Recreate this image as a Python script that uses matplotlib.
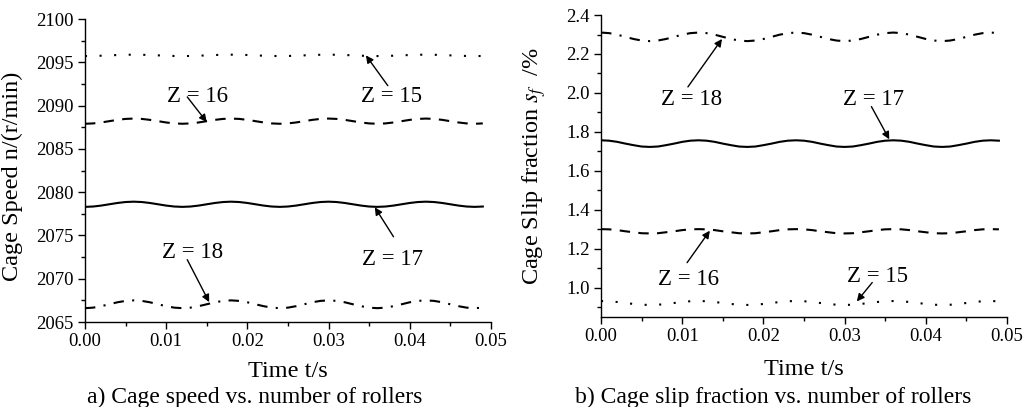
import numpy as np
import matplotlib
matplotlib.use('Agg')
import matplotlib.pyplot as plt
from matplotlib.ticker import MultipleLocator, FormatStrFormatter

plt.rcParams['font.family'] = ['Liberation Serif', 'DejaVu Serif']
plt.rcParams['mathtext.fontset'] = 'stix'

time_s = np.linspace(0, 0.049, 50)

speed_z15 = [2095.72, 2095.73, 2095.76, 2095.80, 2095.84, 2095.87, 2095.88, 2095.87, 2095.84, 2095.80, 2095.76, 2095.73,
             2095.72, 2095.73, 2095.76, 2095.80, 2095.84, 2095.87, 2095.88, 2095.87, 2095.84, 2095.80, 2095.76, 2095.73,
             2095.72, 2095.73, 2095.76, 2095.80, 2095.84, 2095.87, 2095.88, 2095.87, 2095.84, 2095.80, 2095.76, 2095.73,
             2095.72, 2095.73, 2095.76, 2095.80, 2095.84, 2095.87, 2095.88, 2095.87, 2095.84, 2095.80, 2095.76, 2095.73,
             2095.72, 2095.73]
speed_z16 = [2087.90, 2087.94, 2088.05, 2088.20, 2088.35, 2088.46, 2088.50, 2088.46, 2088.35, 2088.20, 2088.05, 2087.94,
             2087.90, 2087.94, 2088.05, 2088.20, 2088.35, 2088.46, 2088.50, 2088.46, 2088.35, 2088.20, 2088.05, 2087.94,
             2087.90, 2087.94, 2088.05, 2088.20, 2088.35, 2088.46, 2088.50, 2088.46, 2088.35, 2088.20, 2088.05, 2087.94,
             2087.90, 2087.94, 2088.05, 2088.20, 2088.35, 2088.46, 2088.50, 2088.46, 2088.35, 2088.20, 2088.05, 2087.94,
             2087.90, 2087.94]
speed_z17 = [2078.30, 2078.34, 2078.45, 2078.60, 2078.75, 2078.86, 2078.90, 2078.86, 2078.75, 2078.60, 2078.45, 2078.34,
             2078.30, 2078.34, 2078.45, 2078.60, 2078.75, 2078.86, 2078.90, 2078.86, 2078.75, 2078.60, 2078.45, 2078.34,
             2078.30, 2078.34, 2078.45, 2078.60, 2078.75, 2078.86, 2078.90, 2078.86, 2078.75, 2078.60, 2078.45, 2078.34,
             2078.30, 2078.34, 2078.45, 2078.60, 2078.75, 2078.86, 2078.90, 2078.86, 2078.75, 2078.60, 2078.45, 2078.34,
             2078.30, 2078.34]
speed_z18 = [2066.60, 2066.66, 2066.83, 2067.05, 2067.28, 2067.44, 2067.50, 2067.44, 2067.28, 2067.05, 2066.83, 2066.66,
             2066.60, 2066.66, 2066.83, 2067.05, 2067.28, 2067.44, 2067.50, 2067.44, 2067.28, 2067.05, 2066.83, 2066.66,
             2066.60, 2066.66, 2066.83, 2067.05, 2067.28, 2067.44, 2067.50, 2067.44, 2067.28, 2067.05, 2066.83, 2066.66,
             2066.60, 2066.66, 2066.83, 2067.05, 2067.28, 2067.44, 2067.50, 2067.44, 2067.28, 2067.05, 2066.83, 2066.66,
             2066.60, 2066.66]

slip_z15 = [0.932, 0.931, 0.927, 0.922, 0.917, 0.913, 0.912, 0.913, 0.917, 0.922, 0.927, 0.931,
            0.932, 0.931, 0.927, 0.922, 0.917, 0.913, 0.912, 0.913, 0.917, 0.922, 0.927, 0.931,
            0.932, 0.931, 0.927, 0.922, 0.917, 0.913, 0.912, 0.913, 0.917, 0.922, 0.927, 0.931,
            0.932, 0.931, 0.927, 0.922, 0.917, 0.913, 0.912, 0.913, 0.917, 0.922, 0.927, 0.931,
            0.932, 0.931]
slip_z16 = [1.301, 1.300, 1.296, 1.290, 1.285, 1.280, 1.279, 1.280, 1.285, 1.290, 1.296, 1.300,
            1.301, 1.300, 1.296, 1.290, 1.285, 1.280, 1.279, 1.280, 1.285, 1.290, 1.296, 1.300,
            1.301, 1.300, 1.296, 1.290, 1.285, 1.280, 1.279, 1.280, 1.285, 1.290, 1.296, 1.300,
            1.301, 1.300, 1.296, 1.290, 1.285, 1.280, 1.279, 1.280, 1.285, 1.290, 1.296, 1.300,
            1.301, 1.300]
slip_z17 = [1.757, 1.755, 1.749, 1.740, 1.732, 1.725, 1.723, 1.725, 1.732, 1.740, 1.749, 1.755,
            1.757, 1.755, 1.749, 1.740, 1.732, 1.725, 1.723, 1.725, 1.732, 1.740, 1.749, 1.755,
            1.757, 1.755, 1.749, 1.740, 1.732, 1.725, 1.723, 1.725, 1.732, 1.740, 1.749, 1.755,
            1.757, 1.755, 1.749, 1.740, 1.732, 1.725, 1.723, 1.725, 1.732, 1.740, 1.749, 1.755,
            1.757, 1.755]
slip_z18 = [2.310, 2.307, 2.299, 2.288, 2.277, 2.269, 2.266, 2.269, 2.277, 2.288, 2.299, 2.307,
            2.310, 2.307, 2.299, 2.288, 2.277, 2.269, 2.266, 2.269, 2.277, 2.288, 2.299, 2.307,
            2.310, 2.307, 2.299, 2.288, 2.277, 2.269, 2.266, 2.269, 2.277, 2.288, 2.299, 2.307,
            2.310, 2.307, 2.299, 2.288, 2.277, 2.269, 2.266, 2.269, 2.277, 2.288, 2.299, 2.307,
            2.310, 2.307]

labels = ['Z = 15', 'Z = 16', 'Z = 17', 'Z = 18']

#%% styles
dash_styles = [(0, (1, 6)), (0, (5, 4)), '-', (0, (5, 4, 1, 4))]
lw = 1.5
tick_fs = 13.5
label_fs = 17.5
note_fs = 16.5
cap_fs = 17

fig = plt.figure(figsize=(10.26, 4.07), dpi=100)
ax1 = fig.add_axes([0.0828, 0.2088, 0.3957, 0.7445])
ax2 = fig.add_axes([0.5858, 0.2211, 0.3957, 0.742])


def style_axes(ax, pad):
    for s in ['top', 'right']:
        ax.spines[s].set_visible(False)
    for s in ['left', 'bottom']:
        ax.spines[s].set_linewidth(1.0)
    ax.tick_params(which='major', direction='out', length=5, width=1.0,
                   labelsize=tick_fs, pad=3)
    ax.tick_params(which='minor', direction='out', length=3, width=1.0)
    ax.xaxis.set_major_locator(MultipleLocator(0.01))
    ax.xaxis.set_minor_locator(MultipleLocator(0.005))
    ax.xaxis.set_major_formatter(FormatStrFormatter('%.2f'))
    ax.set_xlim(0, 0.05)
    ax.set_xlabel('Time t/s', fontsize=label_fs, labelpad=pad)


def arrow(ax, head, tail):
    ax.annotate('', xy=head, xytext=tail,
                arrowprops=dict(arrowstyle='-|>', color='black', lw=1.0,
                                mutation_scale=11, shrinkA=0, shrinkB=0))


# a) cage speed
for ys, ls in zip([speed_z15, speed_z16, speed_z17, speed_z18], dash_styles):
    ax1.plot(time_s, ys, color='black', lw=lw, linestyle=ls)
style_axes(ax1, 8)
ax1.set_ylim(2065, 2100)
ax1.yaxis.set_major_locator(MultipleLocator(5))
ax1.yaxis.set_minor_locator(MultipleLocator(2.5))
ax1.set_ylabel('Cage Speed n/(r/min)', fontsize=label_fs)
ax1.yaxis.set_label_coords(-0.153, 0.48)

ax1.text(0.0377, 2091.1, labels[0], fontsize=note_fs, ha='center', va='center')
arrow(ax1, (0.0346, 2095.8), (0.0373, 2092.3))
ax1.text(0.0138, 2091.1, labels[1], fontsize=note_fs, ha='center', va='center')
arrow(ax1, (0.0150, 2088.1), (0.0126, 2091.0))
ax1.text(0.0379, 2072.2, labels[2], fontsize=note_fs, ha='center', va='center')
arrow(ax1, (0.0357, 2078.25), (0.0380, 2074.85))
ax1.text(0.0133, 2073.0, labels[3], fontsize=note_fs, ha='center', va='center')
arrow(ax1, (0.0153, 2067.3), (0.0126, 2072.2))

# b) cage slip fraction
for ys, ls in zip([slip_z15, slip_z16, slip_z17, slip_z18], dash_styles):
    ax2.plot(time_s, ys, color='black', lw=lw, linestyle=ls)
style_axes(ax2, 10)
ax2.set_ylim(0.85, 2.4)
ax2.yaxis.set_major_locator(MultipleLocator(0.2))
ax2.yaxis.set_minor_locator(MultipleLocator(0.1))
ax2.yaxis.set_major_formatter(FormatStrFormatter('%.1f'))
ax2.set_ylabel(r'Cage Slip fraction $s_f$  /%', fontsize=label_fs)
ax2.yaxis.set_label_coords(-0.130, 0.5)

ax2.text(0.0112, 1.965, labels[3], fontsize=note_fs, ha='center', va='center')
arrow(ax2, (0.0149, 2.277), (0.0107, 2.031))
ax2.text(0.0335, 1.965, labels[2], fontsize=note_fs, ha='center', va='center')
arrow(ax2, (0.0355, 1.762), (0.0333, 1.930))
ax2.text(0.0108, 1.042, labels[1], fontsize=note_fs, ha='center', va='center')
arrow(ax2, (0.0134, 1.293), (0.0106, 1.129))
ax2.text(0.0340, 1.058, labels[0], fontsize=note_fs, ha='center', va='center')
arrow(ax2, (0.0315, 0.930), (0.0334, 1.027))

# captions
fig.text(255 / 1026, 1 - 397 / 407, 'a) Cage speed vs. number of rollers',
         fontsize=cap_fs, ha='center', va='center')
fig.text(773 / 1026, 1 - 397 / 407, 'b) Cage slip fraction vs. number of rollers',
         fontsize=cap_fs, ha='center', va='center')

fig.savefig('out.png', dpi=100)
